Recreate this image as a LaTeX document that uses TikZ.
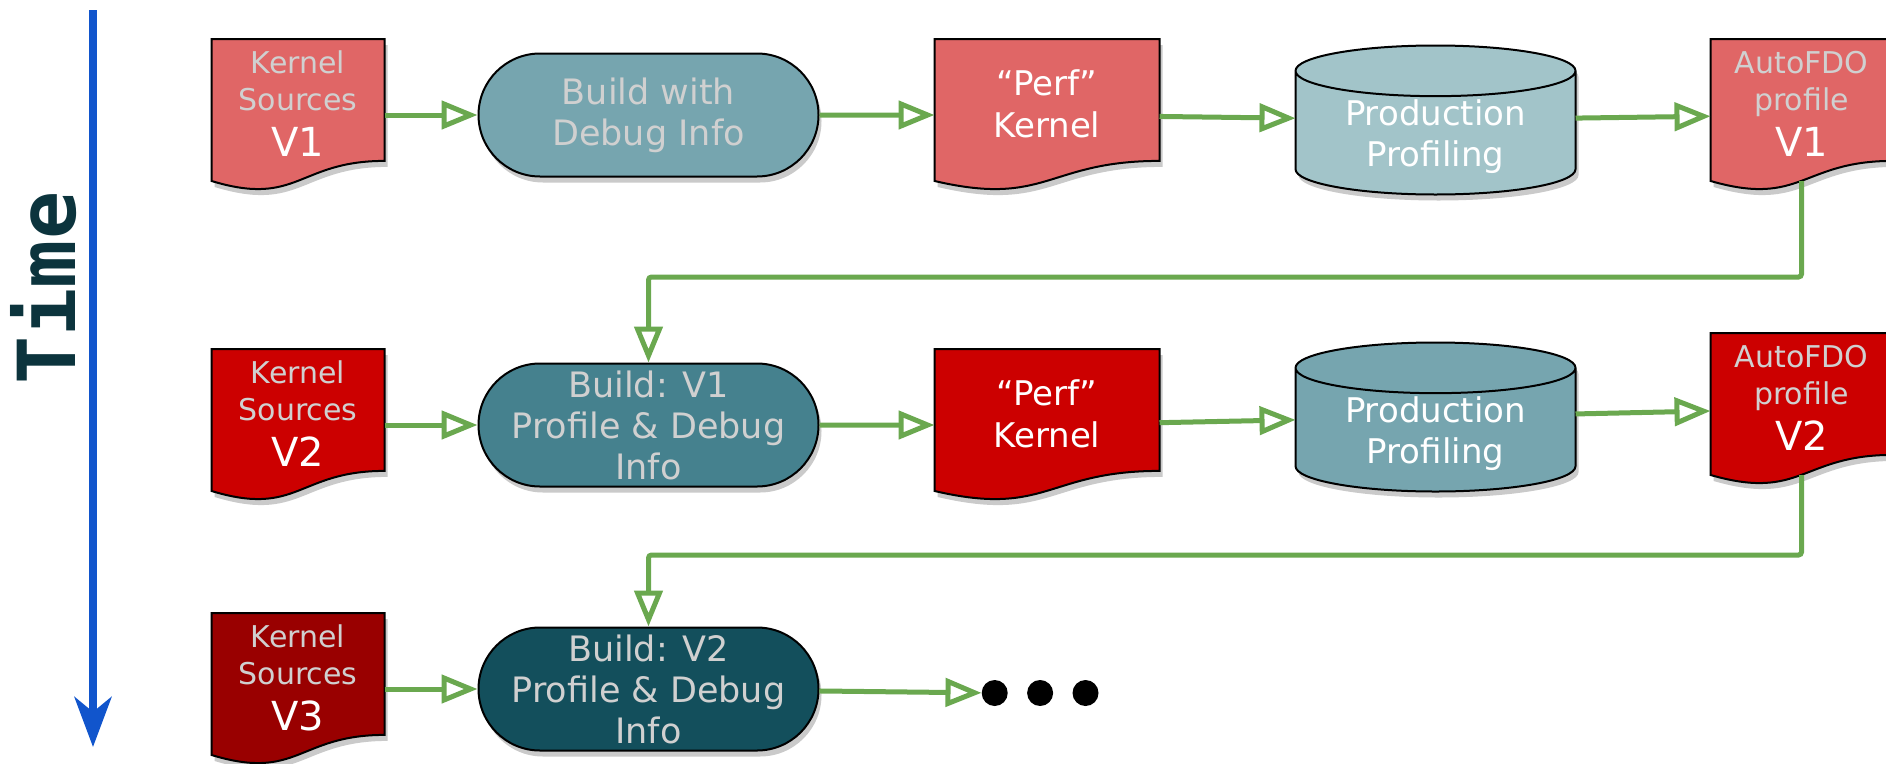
\documentclass[tikz,border=0pt]{standalone}
\usepackage{fontspec}
\setmainfont{DejaVu Sans}
\newfontfamily\timefont{DejaVu Sans Mono}
\usepackage{xcolor}
\usetikzlibrary{positioning,arrows.meta,shapes.misc,shadows}

\definecolor{redA}{HTML}{E06666}
\definecolor{redB}{HTML}{CC0000}
\definecolor{redC}{HTML}{990000}
\definecolor{tealA}{HTML}{A2C4C9}
\definecolor{tealB}{HTML}{76A5AF}
\definecolor{tealC}{HTML}{45818E}
\definecolor{tealD}{HTML}{134F5C}
\definecolor{flowgreen}{HTML}{6AA84F}
\definecolor{timeblue}{HTML}{1155CC}
\definecolor{timeteal}{HTML}{0C343D}
\definecolor{lgray}{HTML}{D0D0D0}

\makeatletter
% sheet of paper with a wavy lower edge
\pgfdeclareshape{document}{%
  \inheritsavedanchors[from=rectangle]
  \inheritanchorborder[from=rectangle]
  \inheritanchor[from=rectangle]{center}
  \inheritanchor[from=rectangle]{north}
  \inheritanchor[from=rectangle]{south}
  \inheritanchor[from=rectangle]{east}
  \inheritanchor[from=rectangle]{west}
  \inheritanchor[from=rectangle]{north east}
  \inheritanchor[from=rectangle]{north west}
  \inheritanchor[from=rectangle]{south east}
  \inheritanchor[from=rectangle]{south west}
  \backgroundpath{%
    \southwest \edef\doc@xl{\the\pgf@x}\edef\doc@yb{\the\pgf@y}%
    \northeast \edef\doc@xr{\the\pgf@x}\edef\doc@yt{\the\pgf@y}%
    \pgfmathsetlengthmacro\doc@xm{(\doc@xl+\doc@xr)/2}%
    \pgfmathsetlengthmacro\doc@h{\doc@yt-(\doc@yb)}%
    \pgfmathsetlengthmacro\doc@yr{\doc@yb+0.198*\doc@h}%
    \pgfmathsetlengthmacro\doc@yl{\doc@yb+0.066*\doc@h}%
    \pgfmathsetlengthmacro\doc@yc{\doc@yb-0.1075*\doc@h}%
    \pgfpathmoveto{\pgfqpoint{\doc@xl}{\doc@yt}}%
    \pgfpathlineto{\pgfqpoint{\doc@xr}{\doc@yt}}%
    \pgfpathlineto{\pgfqpoint{\doc@xr}{\doc@yr}}%
    \pgfpathcurveto{\pgfqpoint{\doc@xm}{\doc@yr}}%
                   {\pgfqpoint{\doc@xm}{\doc@yc}}%
                   {\pgfqpoint{\doc@xl}{\doc@yl}}%
    \pgfpathclose
  }%
}
% upright drum for the profiling store
\pgfdeclareshape{drum}{%
  \inheritsavedanchors[from=rectangle]
  \inheritanchorborder[from=rectangle]
  \inheritanchor[from=rectangle]{center}
  \inheritanchor[from=rectangle]{north}
  \inheritanchor[from=rectangle]{south}
  \inheritanchor[from=rectangle]{east}
  \inheritanchor[from=rectangle]{west}
  \inheritanchor[from=rectangle]{north east}
  \inheritanchor[from=rectangle]{north west}
  \inheritanchor[from=rectangle]{south east}
  \inheritanchor[from=rectangle]{south west}
  \backgroundpath{%
    \southwest \edef\drum@xl{\the\pgf@x}\edef\drum@yb{\the\pgf@y}%
    \northeast \edef\drum@xr{\the\pgf@x}\edef\drum@yt{\the\pgf@y}%
    \pgfmathsetlengthmacro\drum@rx{(\drum@xr-(\drum@xl))/2}%
    \pgfmathsetlengthmacro\drum@ry{0.17*(\drum@yt-(\drum@yb))}%
    \pgfmathsetlengthmacro\drum@yu{\drum@yt-\drum@ry}%
    \pgfmathsetlengthmacro\drum@yd{\drum@yb+\drum@ry}%
    \pgfpathmoveto{\pgfqpoint{\drum@xl}{\drum@yu}}%
    \pgfpathlineto{\pgfqpoint{\drum@xl}{\drum@yd}}%
    \pgfpatharc{180}{360}{\drum@rx and \drum@ry}%
    \pgfpathlineto{\pgfqpoint{\drum@xr}{\drum@yu}}%
    \pgfpatharc{0}{180}{\drum@rx and \drum@ry}%
    \pgfpathclose
    % front rim of the lid
    \pgfpathmoveto{\pgfqpoint{\drum@xl}{\drum@yu}}%
    \pgfpatharc{180}{360}{\drum@rx and \drum@ry}%
  }%
}
\makeatother

\newcommand{\vtag}[1]{{\fontsize{40}{46}\selectfont\color{white}#1}}

\begin{document}
\begin{tikzpicture}[x=1pt,y=-1pt,
  shade/.style={drop shadow={shadow xshift=3pt,shadow yshift=-6pt,
                fill=black!60,opacity=.35}},
  doc/.style={shape=document,draw,line width=2pt,outer sep=0pt,inner sep=0pt,
              minimum width=173pt,minimum height=152pt,align=center,
              text depth=23pt,text=lgray,font=\fontsize{30}{37}\selectfont,shade},
  pill/.style={rounded rectangle,draw,line width=2pt,inner sep=0pt,
               minimum width=340pt,minimum height=123pt,align=center,
               text=lgray,font=\fontsize{35}{41}\selectfont,shade},
  db/.style={shape=drum,draw,line width=2pt,outer sep=0pt,inner sep=0pt,
             minimum width=280pt,minimum height=149pt,align=center,
             text height=92pt,text depth=0pt,text=white,
             font=\fontsize{34}{41}\selectfont,shade},
  arr/.style={-{Triangle[open,length=36pt,width=28pt]},line width=5pt,
              draw=flowgreen},
  dot/.style={circle,fill=black,minimum size=26pt,inner sep=0pt}]

  \useasboundingbox (0,0) rectangle (1886,763);
  \clip (0,0) rectangle (1886,763);

  % time axis
  \coordinate (ttop) at (93,10);
  \coordinate (tbot) at (93,747);
  \draw[-{Stealth[length=50pt,width=37pt,inset=15pt]},line width=7.5pt,
        timeblue] (ttop) -- (tbot);
  \node[rotate=90,text=timeteal,font=\fontsize{80}{80}\timefont\bfseries]
        (time) at (44,288) {Time};

  % first build
  \node[doc,fill=redA] (ks1) at (298,115) {Kernel\\Sources\\[9pt]\vtag{V1}};
  \node[pill,fill=tealB,right=93pt of ks1] (build1) {Build with\\Debug Info};
  \node[doc,fill=redA,text=white,minimum width=225pt,
        font=\fontsize{34}{42}\selectfont,right=115pt of build1]
        (perf1) {“Perf”\\Kernel};
  \node[db,fill=tealA,right=136pt of perf1,yshift=-5pt]
        (prof1) {Production\\Profiling};
  \node[doc,fill=redA,minimum width=182pt,right=135pt of prof1,yshift=5pt]
        (afdo1) {AutoFDO\\profile\\[9pt]\vtag{V1}};

  % second build, fed with profile V1
  \node[doc,fill=redB] (ks2) at (298,425) {Kernel\\Sources\\[9pt]\vtag{V2}};
  \node[pill,fill=tealC,right=93pt of ks2]
        (build2) {Build: V1\\Profile \& Debug\\Info};
  \node[doc,fill=redB,text=white,minimum width=225pt,
        font=\fontsize{34}{42}\selectfont,right=115pt of build2]
        (perf2) {“Perf”\\Kernel};
  \node[db,fill=tealB,right=136pt of perf2,yshift=8pt]
        (prof2) {Production\\Profiling};
  \node[doc,fill=redB,minimum width=182pt,right=135pt of prof2,yshift=8pt]
        (afdo2) {AutoFDO\\profile\\[9pt]\vtag{V2}};

  % third build, fed with profile V2
  \node[doc,fill=redC] (ks3) at (298,689) {Kernel\\Sources\\[9pt]\vtag{V3}};
  \node[pill,fill=tealD,right=93pt of ks3]
        (build3) {Build: V2\\Profile \& Debug\\Info};
  \node[dot,right=162pt of build3,yshift=-4pt] (more1) {};
  \node[dot,right=19pt of more1] (more2) {};
  \node[dot,right=19pt of more2] (more3) {};

  \draw[arr] (ks1) -- (build1);
  \draw[arr] (build1) -- (perf1);
  \draw[arr] (perf1) -- (prof1);
  \draw[arr] (prof1) -- (afdo1);
  \draw[arr,rounded corners=3pt] ([yshift=10pt]afdo1.south) -- ++(0,96)
        -| (build2.north);

  \draw[arr] (ks2) -- (build2);
  \draw[arr] (build2) -- (perf2);
  \draw[arr] (perf2) -- (prof2);
  \draw[arr] (prof2) -- (afdo2);
  \draw[arr,rounded corners=3pt] ([yshift=10pt]afdo2.south) -- ++(0,80)
        -| (build3.north);

  \draw[arr] (ks3) -- (build3);
  \draw[arr] (build3) -- (more1);
\end{tikzpicture}
\end{document}
